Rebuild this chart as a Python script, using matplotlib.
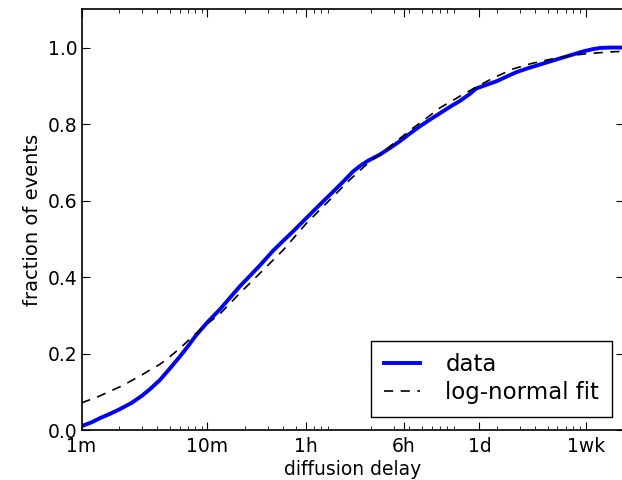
import matplotlib
matplotlib.use("Agg")
import matplotlib.pyplot as plt
from matplotlib.ticker import FixedLocator, LogLocator, NullFormatter

# delay in minutes
data_x = [1.0, 1.2, 1.4, 1.7, 2.0, 2.5, 3.0, 3.5, 4.2, 5.0, 6.0, 7.0, 8.0, 10, 12.6, 15, 18,
          22, 26, 33, 40, 48, 58, 69, 83, 100, 120, 143, 165, 190, 233, 280, 336, 400, 485,
          580, 698, 840, 1004, 1200, 1360, 1650, 1975, 2400, 2850, 3500, 4390, 5400, 6630,
          8000, 9600, 11500, 13100, 16000, 20160]
data_y = [0.010, 0.020, 0.031, 0.043, 0.054, 0.071, 0.089, 0.107, 0.131, 0.160, 0.191, 0.219,
          0.245, 0.282, 0.316, 0.345, 0.375, 0.405, 0.430, 0.468, 0.495, 0.520, 0.547, 0.572,
          0.598, 0.624, 0.650, 0.676, 0.692, 0.705, 0.720, 0.737, 0.755, 0.774, 0.794, 0.811,
          0.828, 0.845, 0.860, 0.878, 0.893, 0.903, 0.912, 0.925, 0.936, 0.946, 0.956, 0.965,
          0.974, 0.982, 0.990, 0.996, 0.999, 1.0, 1.0]

fit_x = [1.0, 1.33, 1.6, 2.02, 2.4, 2.91, 3.5, 4.2, 5.0, 6.06, 7.95, 10, 12.6, 18.1, 26.1,
         40.0, 61.2, 88.1, 134.5, 177, 249, 330, 430, 550, 698, 1000, 1360, 1900, 2660,
         3700, 5200, 7300, 10200, 16500, 20160]
fit_y = [0.071, 0.086, 0.098, 0.113, 0.126, 0.141, 0.157, 0.172, 0.191, 0.214, 0.250, 0.278,
         0.304, 0.358, 0.410, 0.471, 0.541, 0.593, 0.654, 0.690, 0.728, 0.760, 0.790, 0.816,
         0.842, 0.872, 0.897, 0.922, 0.944, 0.958, 0.969, 0.978, 0.984, 0.989, 0.990]

tick_vals = [1, 10, 60, 360, 1440, 10080]
tick_labels = ["1m", "10m", "1h", "6h", "1d", "1wk"]

fig = plt.figure(figsize=(6.22, 4.80), dpi=100)
ax = fig.add_axes([81.5 / 622, 50 / 480, 542.3 / 622, 420.7 / 480])

ax.plot(data_x, data_y, color="#0000ff", lw=2.8, label="data", solid_joinstyle="round")
ax.plot(fit_x, fit_y, color="black", lw=1.2, ls=(0, (5.5, 4.5)), label="log-normal fit")

ax.set_xscale("log")
ax.set_xlim(1, 20160)
ax.set_ylim(0, 1.1)
ax.xaxis.set_major_locator(FixedLocator(tick_vals))
ax.set_xticklabels(tick_labels)
ax.xaxis.set_minor_locator(LogLocator(base=10, subs=range(2, 10), numticks=20))
ax.xaxis.set_minor_formatter(NullFormatter())
ax.set_yticks([0.0, 0.2, 0.4, 0.6, 0.8, 1.0])
ax.set_yticklabels(["0.0", "0.2", "0.4", "0.6", "0.8", "1.0"])

ax.tick_params(which="both", direction="in", top=True, right=True, labelsize=13.5)
ax.tick_params(axis="y", pad=3)
ax.tick_params(axis="x", pad=5)
ax.tick_params(which="major", length=6, width=0.8)
ax.tick_params(which="minor", length=3, width=0.6)
for s in ax.spines.values():
    s.set_linewidth(1.2)

ax.set_xlabel("diffusion delay", fontsize=13.5, labelpad=3)
ax.set_ylabel("fraction of events", fontsize=14, labelpad=4)

leg = ax.legend(loc="lower right", bbox_to_anchor=(0.978, 0.031), borderaxespad=0,
                fontsize=16.5, fancybox=False, edgecolor="black", framealpha=1,
                handlelength=1.6, handletextpad=1.1, borderpad=0.55, labelspacing=0.22)
leg.get_frame().set_linewidth(1.0)

fig.savefig("out.png", dpi=100)
